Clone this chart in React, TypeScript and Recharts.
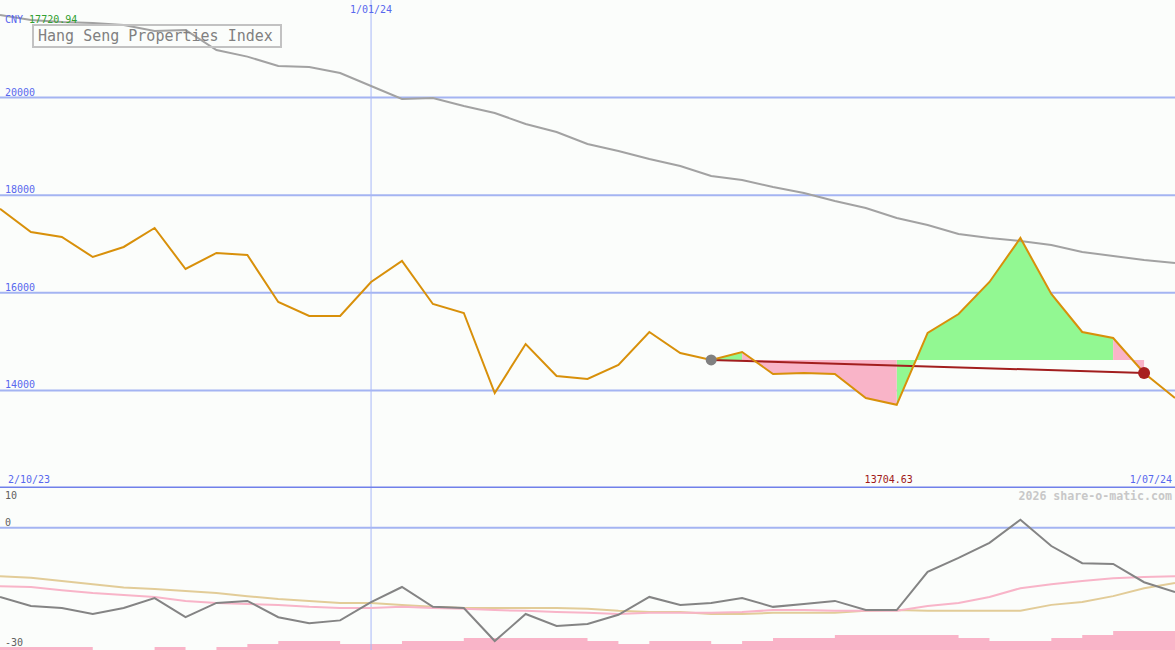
import { ComposedChart, Line, Area, XAxis, YAxis, CartesianGrid, ReferenceLine, ReferenceDot } from 'recharts';

const W = 1175;
const TOP_H = 488;
const BOT_H = 162;

// weekly closes, Hang Seng Properties Index
const dates = [
  '9/10/23', '16/10/23', '23/10/23', '30/10/23', '6/11/23', '13/11/23', '20/11/23', '27/11/23',
  '4/12/23', '11/12/23', '18/12/23', '25/12/23', '1/01/24', '8/01/24', '15/01/24', '22/01/24',
  '29/01/24', '5/02/24', '12/02/24', '19/02/24', '26/02/24', '4/03/24', '11/03/24', '18/03/24',
  '25/03/24', '1/04/24', '8/04/24', '15/04/24', '22/04/24', '29/04/24', '6/05/24', '13/05/24',
  '20/05/24', '27/05/24', '3/06/24', '10/06/24', '17/06/24', '24/06/24', '1/07/24',
];
const price = [
  17720.94, 17246, 17144, 16734, 16939, 17328, 16488, 16816, 16775, 15812, 15525, 15525, 16222,
  16652, 15771, 15587, 13947, 14951, 14296, 14234, 14521, 15197, 14767, 14624, 14787, 14337,
  14357, 14337, 13845, 13704.63, 15177, 15566, 16222, 17123, 15976, 15197, 15074, 14357, 13845,
];
const longAvg = [
  21693, 21590, 21549, 21529, 21488, 21365, 21385, 20976, 20840, 20648, 20627, 20504, 20238,
  19971, 19992, 19828, 19685, 19459, 19295, 19050, 18906, 18742, 18599, 18394, 18312, 18168,
  18045, 17881, 17738, 17533, 17390, 17205, 17123, 17062, 16980, 16837, 16755, 16673, 16611,
];
// lower panel
const momentum = [
  -17.4, -19.7, -20.2, -21.7, -20.2, -17.7, -22.5, -18.9, -18.4, -22.5, -24.0, -23.3, -18.7,
  -14.9, -19.9, -20.2, -28.5, -21.7, -24.7, -24.2, -21.9, -17.4, -19.4, -18.9, -17.7, -19.9,
  -19.2, -18.4, -20.7, -20.7, -11.1, -7.6, -3.8, 2.0, -4.6, -8.9, -9.1, -13.7, -16.2,
];
const slowLine = [
  -12.2, -12.6, -13.4, -14.2, -15.0, -15.4, -15.9, -16.4, -17.2, -17.9, -18.4, -18.9, -18.9,
  -19.4, -19.9, -20.2, -20.2, -20.2, -20.2, -20.4, -20.9, -21.2, -21.2, -21.7, -21.7, -21.4,
  -21.4, -21.4, -20.9, -20.7, -20.9, -20.9, -20.9, -20.9, -19.4, -18.7, -17.2, -15.2, -13.9,
];
const fastLine = [
  -14.7, -14.9, -15.7, -16.4, -16.9, -17.4, -18.4, -18.9, -19.2, -19.4, -19.9, -20.2, -20.2,
  -19.9, -20.2, -20.4, -20.7, -20.9, -21.2, -21.4, -21.7, -21.4, -21.4, -21.4, -21.2, -20.7,
  -20.7, -20.9, -20.9, -20.9, -19.7, -18.9, -17.4, -15.2, -14.2, -13.4, -12.7, -12.4, -12.2,
];
const volume = [
  1, 1, 1, 0, 0, 1, 0, 1, 2, 3, 3, 2, 2, 3, 3, 4, 4, 4, 4, 3, 2, 3, 3, 2, 3, 4, 4, 5, 5, 5, 5,
  4, 3, 3, 4, 5, 6.3, 6.3, 6.3,
];
const priceTicks = [14000, 16000, 18000, 20000];
const startIdx = 23;
const endIdx = 37;
const markerDate = '1/01/24';

const BG = '#fbfdfb';
const BLUE = '#5868ee';
const GRID = '#a4b4f2';
const MONO = '"DejaVu Sans Mono", monospace';

const level = price[startIdx];
// interval (i-1, i) takes the colour of where it ends
const isUp = (i: number) => price[i] > level;
const inSpan = (i: number, up: boolean) =>
  (i > startIdx && i <= endIdx && isUp(i) === up) ||
  (i + 1 > startIdx && i + 1 <= endIdx && isUp(i + 1) === up);

const topData = dates.map((d, i) => ({
  d,
  price: price[i],
  avg: longAvg[i],
  base: i === startIdx || i === endIdx ? price[i] : null,
  up: inSpan(i, true) ? [level, price[i]] : null,
  down: inSpan(i, false) ? [level, price[i]] : null,
}));

const botData = dates.map((d, i) => ({
  d,
  mom: momentum[i],
  slow: slowLine[i],
  fast: fastLine[i],
  vol: volume[i],
}));

const leftLabel = (text: string, color: string, dy: number) => (props: any) => {
  const vb = props.viewBox || {};
  return (
    <text x={(vb.x || 0) + 5} y={(vb.y || 0) + dy} fill={color} fontSize={10} fontFamily={MONO}>
      {text}
    </text>
  );
};

export default function App() {
  return (
    <div style={{ position: 'absolute', left: 0, top: 0, width: W, height: TOP_H + BOT_H, background: BG }}>
      <ComposedChart width={W} height={TOP_H} data={topData} margin={{ top: 0, right: 0, bottom: 0, left: 0 }}>
        <XAxis dataKey="d" scale="point" padding={{ left: 0, right: 0 }} hide />
        <YAxis domain={[12000, 22000]} allowDataOverflow hide />
        <CartesianGrid horizontalValues={priceTicks} vertical={false} stroke={GRID} strokeWidth={2} />
        {priceTicks.map((t) => (
          <ReferenceLine key={t} y={t} stroke="none" label={leftLabel(String(t), BLUE, -2)} />
        ))}
        <ReferenceLine
          x={markerDate}
          stroke="#a8b8f8"
          strokeWidth={1}
          label={(props: any) => (
            <text x={props.viewBox.x} y={13} textAnchor="middle" fill={BLUE} fontSize={10} fontFamily={MONO}>
              {markerDate}
            </text>
          )}
        />
        <ReferenceLine
          y={12000}
          stroke="#7080ea"
          strokeWidth={3}
          label={(props: any) => (
            <g fontSize={10} fontFamily={MONO} fill={BLUE}>
              <text x={8} y={(props.viewBox.y || 0) - 5}>{dates[0].replace('9/', '2/')}</text>
              <text x={W - 3} y={(props.viewBox.y || 0) - 5} textAnchor="end">{dates[dates.length - 1]}</text>
            </g>
          )}
        />
        <Area dataKey="up" stroke="none" fill="#92f892" fillOpacity={1} activeDot={false} isAnimationActive={false} />
        <Area dataKey="down" stroke="none" fill="#f9b4c8" fillOpacity={1} activeDot={false} isAnimationActive={false} />
        <Line dataKey="avg" stroke="#a2a2a2" strokeWidth={2} dot={false} activeDot={false} isAnimationActive={false} />
        <Line dataKey="base" stroke="#a21e1e" strokeWidth={2} dot={false} activeDot={false} connectNulls isAnimationActive={false} />
        <Line dataKey="price" stroke="#d8900a" strokeWidth={2} dot={false} activeDot={false} isAnimationActive={false} />
        <ReferenceDot x={dates[startIdx]} y={price[startIdx]} r={5.5} fill="#808080" stroke="none" />
        <ReferenceDot x={dates[endIdx]} y={price[endIdx]} r={6} fill="#a82020" stroke="none" />
        <ReferenceDot
          x={dates[29]}
          y={12000}
          r={0}
          stroke="none"
          label={(props: any) => (
            <text x={(props.viewBox.x || 0) - 8} y={(props.viewBox.y || 0) - 5} textAnchor="middle" fill="#a01818" fontSize={10} fontFamily={MONO}>
              {Math.min(...price).toFixed(2)}
            </text>
          )}
        />
      </ComposedChart>
      <ComposedChart width={W} height={BOT_H} data={botData} margin={{ top: 0, right: 0, bottom: 0, left: 0 }}>
        <XAxis dataKey="d" scale="point" padding={{ left: 0, right: 0 }} hide />
        <YAxis yAxisId="m" domain={[-30.75, 10]} allowDataOverflow hide />
        <YAxis yAxisId="v" domain={[0, 54]} allowDataOverflow hide />
        <ReferenceLine yAxisId="m" y={0} stroke={GRID} strokeWidth={2} label={leftLabel('0', '#606060', -2)} />
        <ReferenceLine yAxisId="m" y={10} stroke="none" label={leftLabel('10', '#606060', 11)} />
        <ReferenceLine yAxisId="m" y={-30} stroke="none" label={leftLabel('-30', '#606060', -1)} />
        <ReferenceLine yAxisId="m" x={markerDate} stroke="#a8b8f8" strokeWidth={1} />
        <Area yAxisId="v" dataKey="vol" type="stepAfter" stroke="none" fill="#f9b4c8" fillOpacity={1} activeDot={false} isAnimationActive={false} />
        <Line yAxisId="m" dataKey="slow" stroke="#e2cc98" strokeWidth={2} dot={false} activeDot={false} isAnimationActive={false} />
        <Line yAxisId="m" dataKey="fast" stroke="#f8b4c8" strokeWidth={2} dot={false} activeDot={false} isAnimationActive={false} />
        <Line yAxisId="m" dataKey="mom" stroke="#848484" strokeWidth={2} dot={false} activeDot={false} isAnimationActive={false} />
      </ComposedChart>
      <div style={{ position: 'absolute', left: 5, top: 14, fontFamily: MONO, fontSize: 10, lineHeight: '12px', whiteSpace: 'pre' }}>
        <span style={{ color: BLUE }}>CNY </span>
        <span style={{ color: '#30a030' }}>{price[0].toFixed(2)}</span>
      </div>
      <div
        style={{
          position: 'absolute', left: 32, top: 24, width: 242, height: 20, border: '2px solid #c2c2c2',
          fontFamily: MONO, fontSize: 15, lineHeight: '20px', color: '#808080', paddingLeft: 4,
          boxSizing: 'content-box', whiteSpace: 'pre',
        }}
      >
        Hang Seng Properties Index
      </div>
      <div
        style={{
          position: 'absolute', right: 3, top: 489, fontFamily: MONO, fontSize: 11.6, fontWeight: 'bold',
          lineHeight: '14px', color: '#c8c8c8', whiteSpace: 'pre',
        }}
      >
        2026 share-o-matic.com
      </div>
    </div>
  );
}
